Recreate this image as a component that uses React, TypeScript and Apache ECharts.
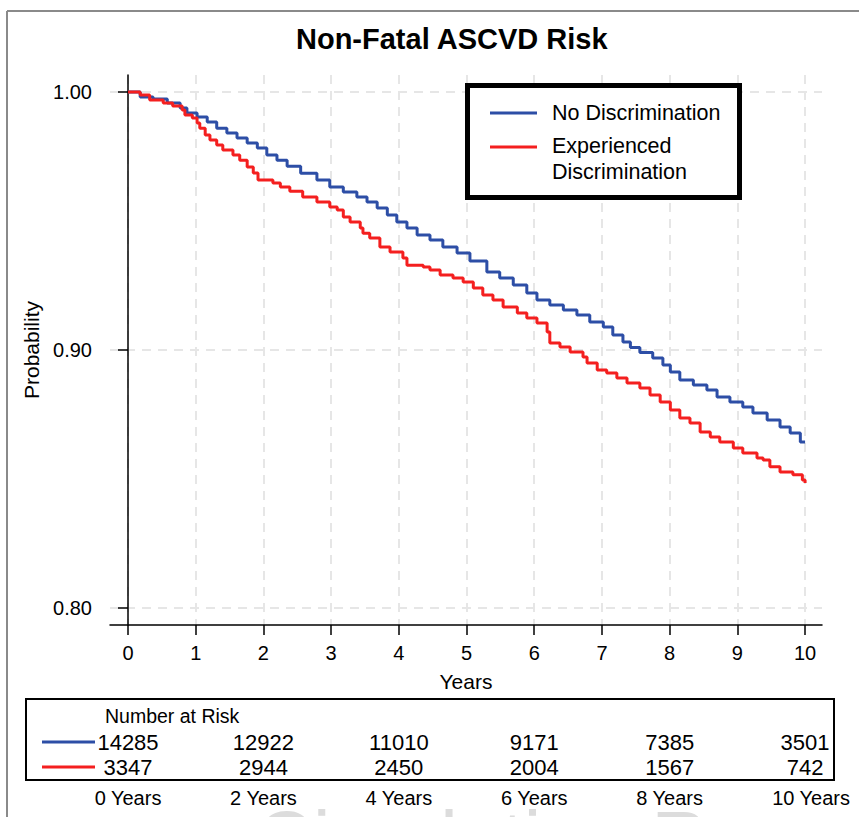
import React, { useEffect, useRef } from 'react';
import * as echarts from 'echarts';

const chartTitle = 'Non-Fatal ASCVD Risk';
const seriesNames = ['No Discrimination', 'Experienced Discrimination'];
const legendLines = [['No Discrimination'], ['Experienced', 'Discrimination']];
const watermark = 'Circulation Research';

const timeNoDisc = [0, 0.18, 0.37, 0.58, 0.77, 0.87, 1.02, 1.17, 1.31, 1.46, 1.61, 1.76, 1.91, 2.05, 2.2, 2.35, 2.55, 2.79, 2.98, 3.18, 3.38, 3.53, 3.68, 3.83, 3.97, 4.12, 4.27, 4.46, 4.65, 4.86, 5.05, 5.3, 5.49, 5.69, 5.89, 6.04, 6.23, 6.43, 6.63, 6.82, 7.02, 7.16, 7.31, 7.42, 7.56, 7.75, 7.9, 8.01, 8.15, 8.35, 8.55, 8.7, 8.89, 9.08, 9.23, 9.44, 9.63, 9.78, 9.93, 10.0];
const survNoDisc = [1.0, 0.9981, 0.9973, 0.9957, 0.9938, 0.9919, 0.9903, 0.9884, 0.986, 0.9841, 0.9822, 0.9802, 0.9783, 0.9756, 0.9736, 0.9712, 0.9685, 0.9659, 0.9632, 0.9612, 0.9593, 0.9574, 0.955, 0.9523, 0.9496, 0.9473, 0.9446, 0.9426, 0.9399, 0.9376, 0.9345, 0.9302, 0.9279, 0.9252, 0.9221, 0.9194, 0.9174, 0.9155, 0.9136, 0.9109, 0.9089, 0.9058, 0.9031, 0.901, 0.899, 0.8969, 0.8942, 0.8915, 0.8884, 0.8864, 0.8845, 0.8818, 0.8798, 0.8779, 0.8756, 0.8729, 0.8702, 0.8678, 0.8643, 0.8643];

const timeDisc = [0, 0.18, 0.32, 0.52, 0.66, 0.8, 0.84, 0.95, 1.02, 1.06, 1.14, 1.21, 1.31, 1.4, 1.55, 1.65, 1.76, 1.85, 1.92, 2.14, 2.25, 2.39, 2.58, 2.79, 2.98, 3.09, 3.18, 3.28, 3.43, 3.47, 3.57, 3.72, 3.87, 4.06, 4.12, 4.36, 4.46, 4.61, 4.8, 4.95, 5.1, 5.24, 5.39, 5.54, 5.75, 5.89, 6.04, 6.19, 6.23, 6.38, 6.53, 6.72, 6.78, 6.93, 7.07, 7.22, 7.37, 7.56, 7.71, 7.86, 8.01, 8.15, 8.3, 8.45, 8.6, 8.74, 8.94, 9.08, 9.29, 9.38, 9.48, 9.63, 9.82, 9.96, 10.0];
const survDisc = [1.0, 0.9988, 0.9969, 0.9957, 0.9946, 0.993, 0.9911, 0.9899, 0.988, 0.986, 0.9833, 0.9814, 0.9795, 0.9775, 0.9756, 0.9736, 0.9709, 0.9686, 0.9659, 0.9647, 0.9632, 0.9615, 0.9593, 0.9574, 0.9554, 0.9543, 0.9516, 0.9496, 0.9473, 0.9453, 0.9434, 0.9399, 0.938, 0.9357, 0.9329, 0.9322, 0.931, 0.9291, 0.9279, 0.9264, 0.924, 0.9213, 0.9194, 0.9167, 0.9143, 0.9124, 0.9105, 0.907, 0.9027, 0.9012, 0.8992, 0.8973, 0.895, 0.8922, 0.8911, 0.8891, 0.8872, 0.8853, 0.8826, 0.8798, 0.8767, 0.8736, 0.8717, 0.8682, 0.8663, 0.8643, 0.862, 0.8601, 0.8581, 0.8574, 0.8547, 0.8527, 0.8516, 0.8496, 0.8484];

const xTicks = [0, 1, 2, 3, 4, 5, 6, 7, 8, 9, 10];
const yTicks = [0.8, 0.9, 1.0];

const riskTitle = 'Number at Risk';
const riskYears = [0, 2, 4, 6, 8, 10];
const riskNoDisc = [14285, 12922, 11010, 9171, 7385, 3501];
const riskDisc = [3347, 2944, 2450, 2004, 1567, 742];

const BLUE = '#2d4ea6';
const RED = '#f41f1f';
const FONT = '"Liberation Sans", Arial, Helvetica, sans-serif';

export default function App() {
  const ref = useRef<HTMLDivElement>(null);
  useEffect(() => {
    document.body.style.margin = '0';
    const chart = echarts.init(ref.current!, null, { renderer: 'svg' });
    const dashed = { show: true, lineStyle: { color: '#e6e6e6', width: 2, type: [9, 7] } };
    chart.setOption({
      animation: false,
      backgroundColor: '#fff',
      title: {
        text: chartTitle,
        left: 296,
        top: 24,
        padding: 0,
        textStyle: { fontFamily: FONT, fontSize: 29, fontWeight: 'bold', color: '#000' },
      },
      grid: { left: 110, right: 37, top: 75, bottom: 192 },
      xAxis: {
        type: 'value',
        min: -0.266,
        max: 10.25,
        name: 'Years',
        nameLocation: 'middle',
        nameGap: 46,
        nameTextStyle: { fontFamily: FONT, fontSize: 21, color: '#000' },
        axisLine: { show: true, lineStyle: { color: '#000', width: 1.5 } },
        axisTick: { show: true, length: 10, customValues: xTicks, lineStyle: { color: '#000', width: 1.5 } },
        axisLabel: { customValues: xTicks, margin: 18, fontFamily: FONT, fontSize: 20, color: '#000' },
        splitLine: dashed,
      },
      yAxis: {
        type: 'value',
        min: 0.7934,
        max: 1.0066,
        name: 'Probability',
        nameLocation: 'middle',
        nameGap: 66,
        nameTextStyle: { fontFamily: FONT, fontSize: 21, color: '#000' },
        axisLine: { show: true, lineStyle: { color: '#000', width: 1.5 } },
        axisTick: { show: true, length: 10, customValues: yTicks, lineStyle: { color: '#000', width: 1.5 } },
        axisLabel: {
          customValues: yTicks,
          margin: 18,
          fontFamily: FONT,
          fontSize: 20,
          color: '#000',
          formatter: (v: number) => v.toFixed(2),
        },
        splitLine: dashed,
      },
      series: [
        {
          name: seriesNames[0],
          type: 'line',
          step: 'end',
          showSymbol: false,
          symbol: 'none',
          lineStyle: { color: BLUE, width: 3 },
          data: timeNoDisc.map((t, i) => [t, survNoDisc[i]]),
          z: 3,
        },
        {
          name: seriesNames[1],
          type: 'line',
          step: 'end',
          showSymbol: false,
          symbol: 'none',
          lineStyle: { color: RED, width: 3 },
          data: timeDisc.map((t, i) => [t, survDisc[i]]),
          z: 4,
        },
      ],
    });

    const px = riskYears.map((y) => chart.convertToPixel({ xAxisIndex: 0 }, y) as number);
    const txt = (text: string, x: number, y: number, size: number, align = 'center', extra: any = {}) => ({
      type: 'text',
      x,
      y,
      style: { text, fill: '#000', font: `${size}px ${FONT}`, textAlign: align, textVerticalAlign: 'middle', ...extra },
    });
    const graphics: any[] = [
      // faint watermark, mostly cut off at the bottom edge
      {
        type: 'text',
        x: 256,
        y: 800,
        z: 0,
        style: { text: watermark, fill: '#dcdcdc', font: `79px ${FONT}`, textAlign: 'left', textVerticalAlign: 'top' },
      },
      // outer frame
      { type: 'line', shape: { x1: 7, y1: 11, x2: 859, y2: 11 }, style: { stroke: '#8a8a8a', lineWidth: 2 } },
      { type: 'line', shape: { x1: 7, y1: 11, x2: 7, y2: 817 }, style: { stroke: '#8a8a8a', lineWidth: 2 } },
      // legend box
      { type: 'rect', shape: { x: 467.5, y: 85.5, width: 272, height: 112 }, style: { fill: '#fff', stroke: '#000', lineWidth: 5 }, z: 10 },
      { type: 'line', shape: { x1: 490, y1: 113, x2: 537, y2: 113 }, style: { stroke: BLUE, lineWidth: 3 }, z: 11 },
      { type: 'line', shape: { x1: 490, y1: 147, x2: 537, y2: 147 }, style: { stroke: RED, lineWidth: 3 }, z: 11 },
      { ...txt(legendLines[0][0], 552, 113, 21.5, 'left'), z: 11 },
      { ...txt(legendLines[1][0], 552, 146, 21.5, 'left'), z: 11 },
      { ...txt(legendLines[1][1], 552, 172, 21.5, 'left'), z: 11 },
      // risk table
      { type: 'rect', shape: { x: 26, y: 699, width: 808, height: 81 }, style: { fill: '#fff', stroke: '#000', lineWidth: 2 }, z: 5 },
      { ...txt(riskTitle, 105, 716, 19.5, 'left'), z: 6 },
      { type: 'line', shape: { x1: 42, y1: 742, x2: 95, y2: 742 }, style: { stroke: BLUE, lineWidth: 3 }, z: 6 },
      { type: 'line', shape: { x1: 42, y1: 767, x2: 95, y2: 767 }, style: { stroke: RED, lineWidth: 3 }, z: 6 },
    ];
    riskYears.forEach((yr, i) => {
      graphics.push({ ...txt(String(riskNoDisc[i]), px[i], 742, 22), z: 6 });
      graphics.push({ ...txt(String(riskDisc[i]), px[i], 767, 22), z: 6 });
      graphics.push({ ...txt(`${yr} Years`, px[i] + (i === riskYears.length - 1 ? 6 : 0), 798, 20), z: 6 });
    });
    chart.setOption({ graphic: graphics });
    return () => chart.dispose();
  }, []);
  return <div ref={ref} style={{ width: 859, height: 817 }} />;
}
